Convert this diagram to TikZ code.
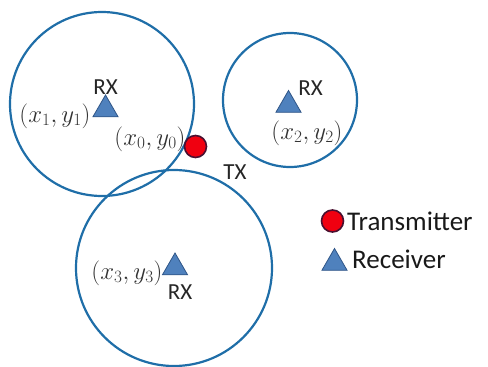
\documentclass[tikz,border=0pt]{standalone}
\usepackage{fontspec}
\setmainfont{Carlito}
\usetikzlibrary{shapes.geometric}
\definecolor{ringblue}{HTML}{1F6EA8}
\definecolor{trifill}{HTML}{4F81BD}
\definecolor{triedge}{HTML}{2F5587}
\definecolor{txred}{HTML}{F00010}
\definecolor{txedge}{HTML}{4A1030}
\begin{document}
\begin{tikzpicture}[x=1pt,y=-1pt,
  ring/.style={draw=ringblue,line width=2.2pt,circle,inner sep=0pt},
  rxtri/.style={regular polygon,regular polygon sides=3,minimum size=29pt,inner sep=0pt,fill=trifill,draw=triedge,line width=0.8pt},
  txdot/.style={circle,fill=txred,draw=txedge,line width=1.6pt,inner sep=0pt,minimum size=22pt},
  lbl/.style={inner sep=0pt,text=black!85,font=\fontsize{23}{25}\selectfont},
  mlbl/.style={inner sep=0pt,text=black!80,font=\fontsize{24}{26}\selectfont},
  leg/.style={inner sep=0pt,anchor=west,text=black!90,font=\fontsize{27}{29}\selectfont}]
\useasboundingbox (0,0) rectangle (488,367);
% coverage circles
\node[ring,minimum size=184pt] (c1) at (102,104) {};
\node[ring,minimum size=134pt] (c2) at (290,100) {};
\node[ring,minimum size=196pt] (c3) at (174,268) {};
% receivers
\node[rxtri] (r1) at (105.5,109.5) {};
\node[rxtri] (r2) at (288.5,105) {};
\node[rxtri] (r3) at (175,267.5) {};
\node[lbl] (r1l) at (105.5,87) {RX};
\node[lbl] (r2l) at (310.5,88) {RX};
\node[lbl] (r3l) at (180,292) {RX};
\node[mlbl] (p1) at (55,116) {$\left(x_1,y_1\right)$};
\node[mlbl] (p2) at (307,133) {$\left(x_2,y_2\right)$};
\node[mlbl] (p3) at (127,273) {$\left(x_3,y_3\right)$};
% transmitter
\node[txdot] (tx) at (195.5,146.5) {};
\node[mlbl] (p0) at (150,139) {$\left(x_0,y_0\right)$};
\node[lbl] (txl) at (235,172) {TX};
% legend
\node[txdot] (legtx) at (332.5,221) {};
\node[leg] (legtxt) at (347,221) {Transmitter};
\node[rxtri] (legrx) at (334.5,263) {};
\node[leg] (legrxt) at (352,259) {Receiver};
\end{tikzpicture}
\end{document}
